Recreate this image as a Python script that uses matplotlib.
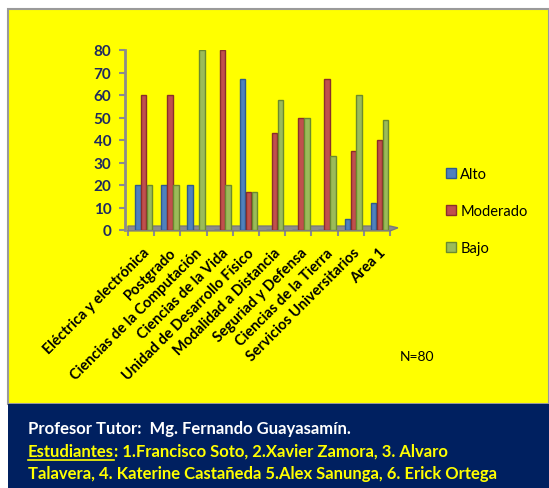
import numpy as np
import matplotlib; matplotlib.use("Agg")
import matplotlib.pyplot as plt
from matplotlib.patches import Rectangle, Polygon

plt.rcParams['font.family'] = ['Lato', 'DejaVu Sans']

areas = ["Eléctrica y electrónica", "Postgrado", "Ciencias de la Computación",
         "Ciencias de la Vida", "Unidad de Desarrollo Físico", "Modalidad a Distancia",
         "Seguriad y Defensa", "Ciencias de la Tierra", "Servicios Universitarios", "Area 1"]
alto = [20, 20, 20, 0, 67, 0, 0, 0, 5, 12]
moderado = [60, 60, 0, 80, 17, 43, 50, 67, 35, 40]
bajo = [20, 20, 80, 20, 17, 58, 50, 33, 60, 49]
yticks = [0, 10, 20, 30, 40, 50, 60, 70, 80]

W, H = 549, 489
fig = plt.figure(figsize=(W / 100, H / 100), dpi=100)
fig.patch.set_facecolor("white")

def px(x, y):
    return x / W, 1 - y / H

# yellow panel + navy footer
x0, y0 = px(8, 405)
fig.add_artist(Rectangle((x0, y0), 1 - x0, px(0, 10)[1] - y0, transform=fig.transFigure,
                         fc="#FFFF00", ec="#9a9a9a", lw=1.5, zorder=0))
fig.add_artist(Rectangle((x0, 0), 1 - x0, y0, transform=fig.transFigure,
                         fc="#002060", ec="none", zorder=0))

l, b = px(128, 231)
r, t = px(390, 51)
ax = fig.add_axes([l, b, r - l, t - b])
ax.set_facecolor("none")

x = np.arange(len(areas))
w = 0.21
shift = 0.1
series = [(alto, "Alto", "#4F81BD", "#2f5b8f"),
          (moderado, "Moderado", "#C0504D", "#8a2e2b"),
          (bajo, "Bajo", "#9BBB59", "#6b8a2e")]
for k, (vals, name, fc, ec) in enumerate(series):
    ax.bar(x + shift + (k - 1) * 0.225, vals, width=w, color=fc, edgecolor=ec,
           linewidth=1.0, label=name, zorder=3)

ax.set_xlim(-0.5, 9.5)
ax.set_ylim(0, 80)
for s in ["top", "right", "bottom"]:
    ax.spines[s].set_visible(False)
ax.spines["left"].set_color("#8c8c8c")
ax.spines["left"].set_linewidth(2)
ax.spines["left"].set_position(("outward", 2))

ax.set_yticks(yticks)
ax.set_yticklabels([str(v) for v in yticks], fontsize=11, fontweight="bold", color="#1F2A60")
ax.tick_params(axis="y", length=4, width=1.5, color="#8c8c8c", pad=6)

# floor of the chart
floor = Polygon([(0, -0.005), (1.0, -0.005), (1.03, 0.012), (1.0, 0.022), (0, 0.022)],
                closed=True, transform=ax.transAxes, fc="#8c8c8c", ec="#7a7a7a",
                clip_on=False, zorder=2)
ax.add_patch(floor)

ax.set_xticks(x + 0.05)
ax.set_xticklabels(areas, rotation=45, ha="right", va="top", rotation_mode="anchor",
                   fontsize=10.5, fontweight="bold", color="black")
ax.tick_params(axis="x", which="major", length=0, pad=11)
ax.set_xticks(np.arange(-0.5, 10, 1), minor=True)
ax.tick_params(axis="x", which="minor", length=4, width=1.5, color="#8c8c8c")

fig.legend(loc="upper left", bbox_to_anchor=px(440, 162), frameon=False, fontsize=10.5,
           handlelength=0.7, handleheight=0.7, handletextpad=0.3, labelspacing=1.6,
           borderaxespad=0)

fig.text(*px(400, 357), "N=80", fontsize=10, va="center", ha="left")

# footer text
fs = 12
fig.text(*px(28, 429), "Profesor Tutor:  Mg. Fernando Guayasamín.", fontsize=fs,
         fontweight="bold", color="white", va="center")
est = fig.text(*px(28, 452), "Estudiantes", fontsize=fs, fontweight="bold",
               color="#FFFF00", va="center")
fig.canvas.draw()
bb = est.get_window_extent()
fig.text(bb.x1 / W, px(0, 452)[1], ": 1.Francisco Soto, 2.Xavier Zamora, 3. Alvaro",
         fontsize=fs, fontweight="bold", color="#FFFF00", va="center")
uy = (bb.y0 - 1) / H
fig.add_artist(plt.Line2D([bb.x0 / W, bb.x1 / W], [uy, uy], transform=fig.transFigure,
                          color="#FFFF00", lw=1.2))
fig.text(*px(28, 474), "Talavera, 4. Katerine Castañeda 5.Alex Sanunga, 6. Erick Ortega",
         fontsize=fs, fontweight="bold", color="#FFFF00", va="center")

fig.savefig("out.png", dpi=100)
